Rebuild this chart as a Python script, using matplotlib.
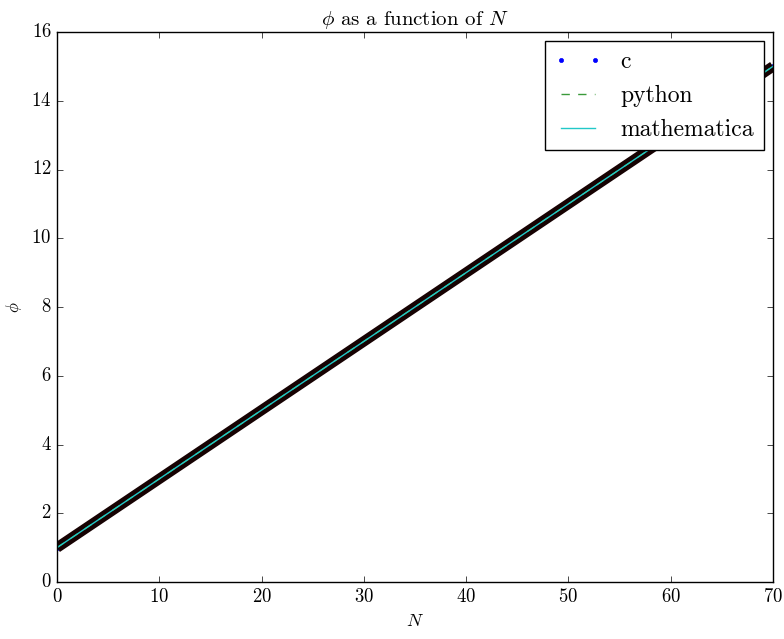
import matplotlib
matplotlib.use('Agg')
import matplotlib.pyplot as plt

plt.style.use('classic')
plt.rcParams['font.family'] = 'serif'
plt.rcParams['font.serif'] = ['cmr10', 'DejaVu Serif']
plt.rcParams['mathtext.fontset'] = 'cm'
plt.rcParams['axes.formatter.use_mathtext'] = True

# phi(N), one value per integer N
N = list(range(71))
phi = [1.0, 1.2, 1.4, 1.6, 1.8, 2.0, 2.2, 2.4, 2.6, 2.8,
       3.0, 3.2, 3.4, 3.6, 3.8, 4.0, 4.2, 4.4, 4.6, 4.8,
       5.0, 5.2, 5.4, 5.6, 5.8, 6.0, 6.2, 6.4, 6.6, 6.8,
       7.0, 7.2, 7.4, 7.6, 7.8, 8.0, 8.2, 8.4, 8.6, 8.8,
       9.0, 9.2, 9.4, 9.6, 9.8, 10.0, 10.2, 10.4, 10.6, 10.8,
       11.0, 11.2, 11.4, 11.6, 11.8, 12.0, 12.2, 12.4, 12.6, 12.8,
       13.0, 13.2, 13.4, 13.6, 13.8, 14.0, 14.2, 14.4, 14.6, 14.8,
       15.0]

fig = plt.figure(figsize=(7.84, 6.39), dpi=100)
ax = fig.add_axes([57 / 784, 57 / 639, 716 / 784, 550 / 639])

ax.plot(N, phi, 'b.', label='c')
# dense c points with dark edges give the thick band
ax.plot(N, phi, color='#160202', lw=7.5, solid_capstyle='butt')
ax.plot(N, phi, '--', color='#3a9a3a', label='python')
ax.plot(N, phi, '-', color='#22c8c8', label='mathematica')

ax.set_xlim(0, 70)
ax.set_ylim(0, 16)
ax.set_title(r'$\phi$ as a function of $N$', fontsize=15)
ax.set_xlabel(r'$N$', fontsize=13)
ax.set_ylabel(r'$\phi$', fontsize=12)
ax.tick_params(labelsize=13.5)
ax.legend(loc='upper right', fontsize=17, numpoints=2, borderaxespad=0.4)

fig.savefig('out.png', dpi=100)
